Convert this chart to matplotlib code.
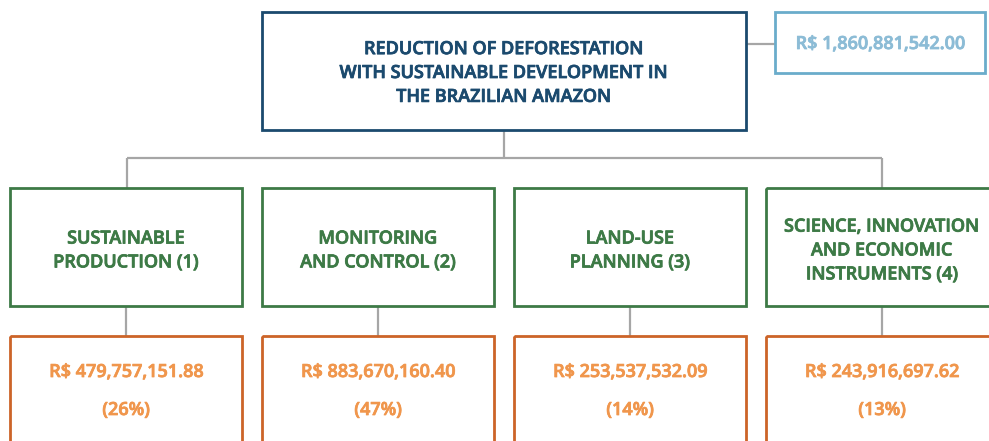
import matplotlib
matplotlib.use("Agg")
import matplotlib.pyplot as plt
from matplotlib.patches import Rectangle
from matplotlib import font_manager as fm
import matplotlib.patheffects as pe

# ---- data ----
root_title = "REDUCTION OF DEFORESTATION\nWITH SUSTAINABLE DEVELOPMENT IN\nTHE BRAZILIAN AMAZON"
total_value = "R$ 1,860,881,542.00"
categories = ["SUSTAINABLE\nPRODUCTION (1)", "MONITORING\nAND CONTROL (2)",
              "LAND-USE\nPLANNING (3)", "SCIENCE, INNOVATION\nAND ECONOMIC\nINSTRUMENTS (4)"]
values = [479757151.88, 883670160.40, 253537532.09, 243916697.62]
percents = ["(26%)", "(47%)", "(14%)", "(13%)"]

NAVY = "#1b4a6e"
LIGHTBLUE = "#6aaccb"
LIGHTBLUE_TXT = "#8cbcd6"
GREEN = "#3d7a46"
ORANGE = "#cc6428"
ORANGE_TXT = "#f0964c"
GREY = "#a6a6a6"

# choose a non-condensed Open Sans file
def pick_font():
    cands = []
    for f in fm.fontManager.ttflist:
        n = f.fname.lower()
        if f.name == 'Open Sans' and 'condensed' not in n and 'italic' not in n \
                and f.style == 'normal':
            w = f.weight if isinstance(f.weight, int) else 400
            if isinstance(f.weight, str):
                w = {'semibold': 600, 'bold': 700, 'demibold': 600}.get(f.weight, 400)
            cands.append((abs(w - 600), n, f.fname))
    cands.sort()
    return cands[0][2] if cands else None

fname = pick_font()
fs = 13
if fname:
    FP = fm.FontProperties(fname=fname, size=fs)
else:
    FP = fm.FontProperties(family='DejaVu Sans', weight='bold', size=fs)

def bold(color):
    return [pe.withStroke(linewidth=0.55, foreground=color)]

fig = plt.figure(figsize=(9.89, 4.41), dpi=100)
ax = fig.add_axes([0, 0, 1, 1])
ax.set_xlim(0, 989)
ax.set_ylim(441, 0)
ax.axis('off')

def box(x0, y0, x1, y1, color, lw=2.0):
    ax.add_patch(Rectangle((x0, y0), x1 - x0, y1 - y0, fill=False,
                           edgecolor=color, linewidth=lw, zorder=3))

def line(xs, ys):
    ax.plot(xs, ys, color=GREY, linewidth=1.6, zorder=1, solid_capstyle='butt')

def label(x, y, s, color, **kw):
    ax.text(x, y, s, ha='center', va='center', color=color, fontproperties=FP,
            path_effects=bold(color), **kw)

# root
box(262, 12, 746, 130, NAVY)
label(504, 73, root_title, NAVY, linespacing=1.42)
# total
box(775, 12, 985, 73, LIGHTBLUE)
label(880, 44, total_value, LIGHTBLUE_TXT)
line([746, 775], [44, 44])

# connectors
line([504, 504], [130, 158])
line([127, 882], [158, 158])
line([127, 127], [158, 188])
line([882, 882], [158, 188])

lefts = [10, 262, 514, 766]
width = 232
for i, (cat, v, p) in enumerate(zip(categories, values, percents)):
    x0 = lefts[i]
    x1 = min(x0 + width, 989 + 5)
    cx = x0 + width / 2
    box(x0, 188, x1, 306, GREEN)
    label(cx, 250.5, cat, GREEN, linespacing=1.42)
    line([cx, cx], [306, 336])
    box(x0, 336, x1, 460, ORANGE)
    label(cx, 372, f"R$ {v:,.2f}", ORANGE_TXT)
    label(cx, 410, p, ORANGE_TXT)

fig.savefig("out.png", dpi=100)
